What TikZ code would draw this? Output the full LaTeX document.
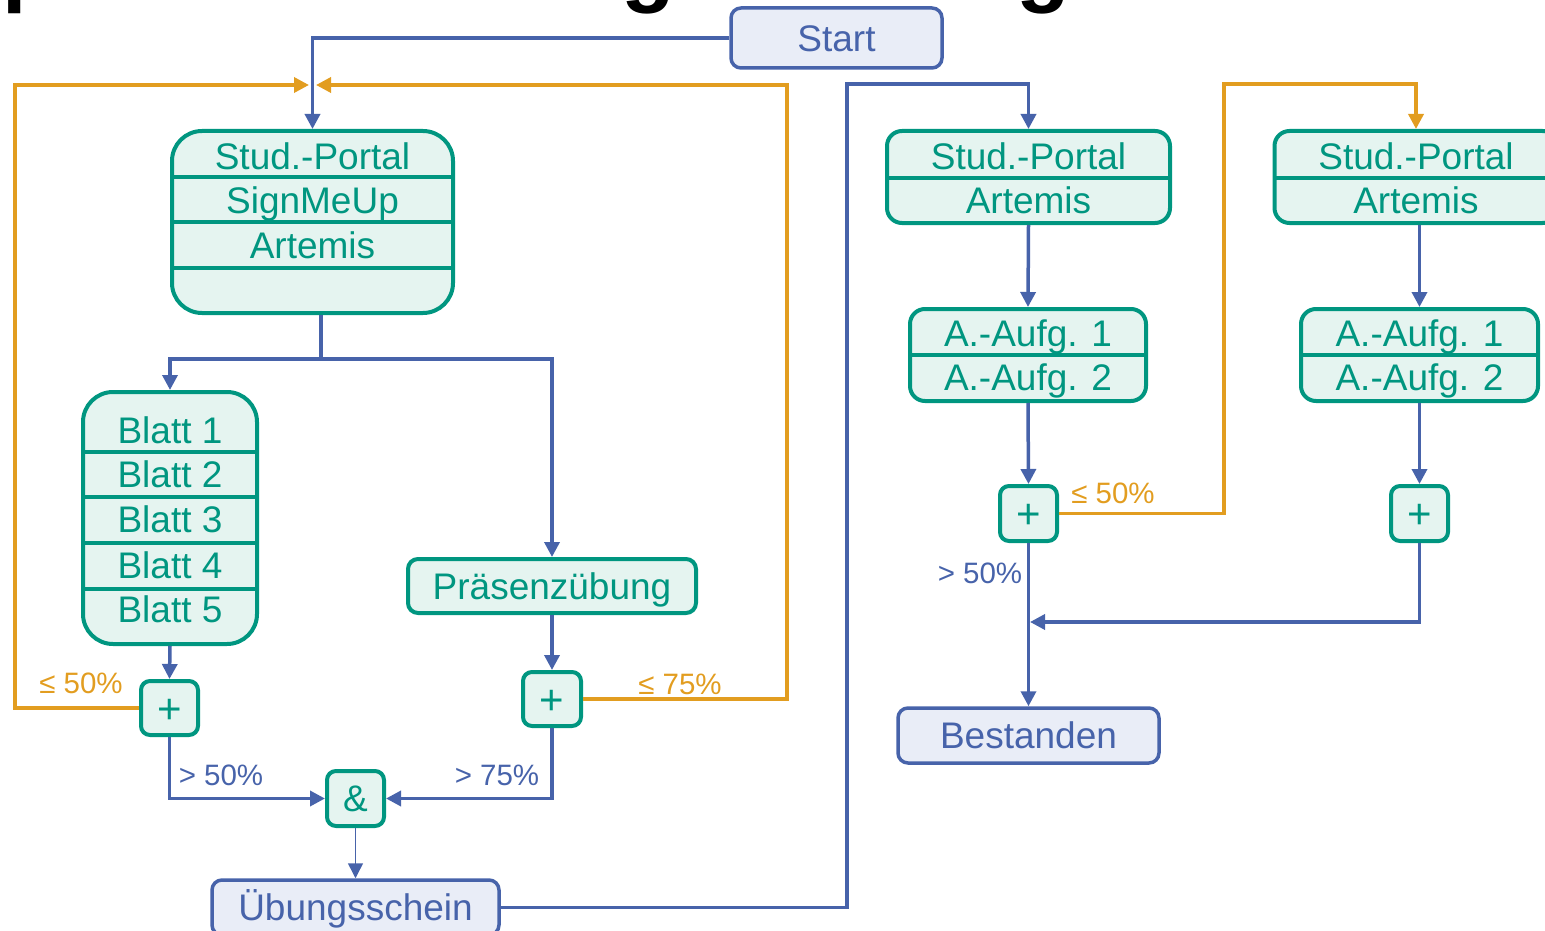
\documentclass[tikz,border=0pt]{standalone}
\usepackage{fontspec}
\setmainfont{Liberation Sans}
\usetikzlibrary{arrows.meta}

\definecolor{tealc}{RGB}{0,150,128}
\definecolor{tealf}{RGB}{229,244,240}
\definecolor{bluec}{RGB}{71,99,170}
\definecolor{bluef}{RGB}{233,237,247}
\definecolor{orangec}{RGB}{226,157,32}

\tikzset{
  tbox/.style={draw=tealc, fill=tealf, line width=4pt, rounded corners=#1, inner sep=0pt},
  tbox/.default=10pt,
  bbox/.style={draw=bluec, fill=bluef, line width=3.5pt, rounded corners=10pt, inner sep=0pt,
    text=bluec, font=\fontsize{37}{40}\selectfont, text height=26.5pt, text depth=0pt},
  sepline/.style={draw=tealc, line width=4pt},
  ttext/.style={text=tealc, font=\fontsize{37}{40}\selectfont, inner sep=0pt,
    text height=26.5pt, text depth=0pt},
  optext/.style={text=tealc, font=\fontsize{42}{44}\selectfont, text height=30pt, text depth=0pt},
  conn/.style={draw=bluec, line width=3.5pt},
  oconn/.style={draw=orangec, line width=3.5pt},
  arr/.style={-{Triangle[length=15pt,width=15pt]}},
  blab/.style={text=bluec, font=\fontsize{29.5}{32}\selectfont, inner sep=0pt, text height=21.1pt, text depth=0pt},
  olab/.style={text=orangec, font=\fontsize{29.5}{32}\selectfont, inner sep=0pt, text height=21.1pt, text depth=0pt},
  ttl/.style={anchor=base west, inner sep=0pt, font=\fontsize{88}{90}\selectfont\bfseries}
}

\begin{document}
\begin{tikzpicture}[x=1pt,y=-1pt]
\useasboundingbox (0,0) rectangle (1545,931);

% heading letters, cut by the top edge of the page
\node[ttl] (ttl-p) at (2,-4) {p};
\node[ttl] (ttl-g1) at (621.5,-4) {g};
\node[ttl] (ttl-g2) at (1016.5,-4) {g};

% ---------- left part: exercise certificate ----------
\node[bbox, minimum width=211pt, minimum height=60pt] (start) at (836.5,38) {Start};

\node[tbox=30pt, minimum width=281pt, minimum height=182pt] (portal) at (312.5,222) {};
\draw[sepline] (172,177) -- (453,177);
\draw[sepline] (172,222) -- (453,222);
\draw[sepline] (172,268) -- (453,268);
\node[ttext] (portal-a) at (312.5,156) {Stud.-Portal};
\node[ttext] (portal-b) at (312.5,200.5) {SignMeUp};
\node[ttext] (portal-c) at (312.5,245) {Artemis};

\node[tbox=30pt, minimum width=174pt, minimum height=252pt] (blatt) at (170,518) {};
\draw[sepline] (83,452) -- (257,452);
\draw[sepline] (83,497) -- (257,497);
\draw[sepline] (83,543) -- (257,543);
\draw[sepline] (83,589) -- (257,589);
\node[ttext] (blatt1) at (170,430) {Blatt 1};
\node[ttext] (blatt2) at (170,474.5) {Blatt 2};
\node[ttext] (blatt3) at (170,519.7) {Blatt 3};
\node[ttext] (blatt4) at (170,565) {Blatt 4};
\node[ttext] (blatt5) at (170,609.7) {Blatt 5};

\node[tbox, ttext, minimum width=288pt, minimum height=54pt] (praes) at (552,586) {Präsenzübung};

\node[tbox=9pt, optext, minimum width=57pt, minimum height=54pt] (plus1) at (169.5,708) {+};
\node[tbox=9pt, optext, minimum width=58pt, minimum height=54pt] (plus2) at (552,699) {+};
\node[tbox=9pt, ttext, minimum width=57pt, minimum height=55pt] (and) at (355.5,798.5) {\&};

\node[bbox, minimum width=287pt, minimum height=55pt] (schein) at (355.5,907.5) {Übungsschein};

% ---------- right part: exam ----------
\node[tbox=15pt, minimum width=283pt, minimum height=92pt] (stud2) at (1028.5,177) {};
\draw[sepline] (887,178) -- (1170,178);
\node[ttext] (stud2-a) at (1028.5,156) {Stud.-Portal};
\node[ttext] (stud2-b) at (1028.5,200) {Artemis};

\node[tbox=15pt, minimum width=236pt, minimum height=92pt] (aa1) at (1028,355) {};
\draw[sepline] (910,355) -- (1146,355);
\node[ttext] (aa1-a) at (1028,333) {A.-Aufg. 1};
\node[ttext] (aa1-b) at (1028,377.5) {A.-Aufg. 2};

\node[tbox=9pt, optext, minimum width=57pt, minimum height=55pt] (plus3) at (1028.5,513.5) {+};

\node[tbox=15pt, minimum width=283pt, minimum height=92pt] (stud3) at (1416,177) {};
\draw[sepline] (1274.5,178) -- (1557.5,178);
\node[ttext] (stud3-a) at (1416,156) {Stud.-Portal};
\node[ttext] (stud3-b) at (1416,200) {Artemis};

\node[tbox=15pt, minimum width=237pt, minimum height=92pt] (aa2) at (1419.5,355) {};
\draw[sepline] (1301,355) -- (1538,355);
\node[ttext] (aa2-a) at (1419.5,333) {A.-Aufg. 1};
\node[ttext] (aa2-b) at (1419.5,377.5) {A.-Aufg. 2};

\node[tbox=9pt, optext, minimum width=57pt, minimum height=55pt] (plus4) at (1419.5,513.5) {+};

\node[bbox, minimum width=261pt, minimum height=55pt] (best) at (1028.5,735.5) {Bestanden};

% ---------- connectors ----------
\coordinate (loopL) at (15,85);
\coordinate (loopR) at (787,85);
\coordinate (jl) at (309,85);
\coordinate (jr) at (316,85);
\coordinate (split) at (321,359);
\coordinate (exitUp) at (847,84);
\coordinate (retry) at (1224,84);
\coordinate (merge) at (1030,622);

\draw[oconn, arr] (plus1.west) -| (loopL) -- (jl);
\draw[oconn, arr] (plus2.east) -| (loopR) -- (jr);
\draw[conn, arr] (start.west) -| (portal.north);

\draw[conn] (split |- portal.south) -- (split);
\draw[conn, arr] (split) -| (blatt.north);
\draw[conn, arr] (split) -| (praes.north);
\draw[conn, arr] (blatt.south) -- (plus1.north);
\draw[conn, arr] (praes.south) -- (plus2.north);
\draw[conn, arr] (plus1.south) |- (and.west);
\draw[conn, arr] (plus2.south) |- (and.east);
\draw[conn, line width=1.5pt, arr] (and.south) -- (schein.north);

\draw[conn, arr] (schein.east) -| (exitUp) -| (stud2.north);
\draw[conn, arr] (stud2.south) -- (aa1.north);
\draw[conn, arr] (aa1.south) -- (plus3.north);
\draw[conn, arr] (plus3.south) -- (best.north);
\draw[oconn, arr] (plus3.east) -| (retry) -| (stud3.north);
\draw[conn, arr] (aa2.north |- stud3.south) -- (aa2.north);
\draw[conn, arr] (aa2.south) -- (plus4.north);
\draw[conn, arr] (plus4.south) |- (merge);

% ---------- thresholds ----------
\node[olab] (l1) at (81,683) {≤ 50\%};
\node[olab] (l2) at (680,684) {≤ 75\%};
\node[blab] (l3) at (221,774.5) {> 50\%};
\node[blab] (l4) at (497,774.5) {> 75\%};
\node[olab] (l5) at (1113,492.5) {≤ 50\%};
\node[blab] (l6) at (980,573) {> 50\%};
\end{tikzpicture}
\end{document}
